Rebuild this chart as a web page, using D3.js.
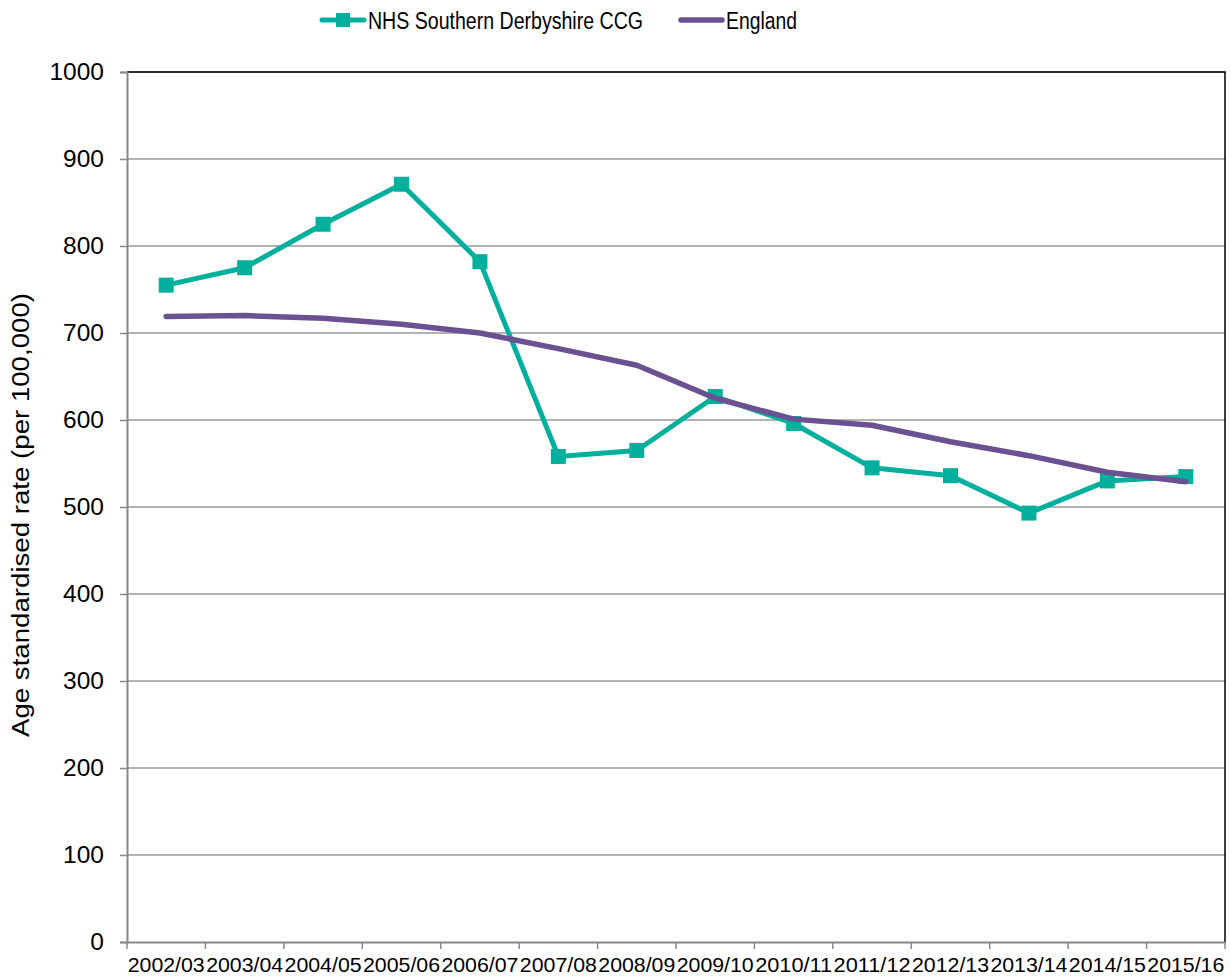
<!DOCTYPE html>
<html>
<head>
<meta charset="utf-8">
<script src="https://cdn.jsdelivr.net/npm/d3@7"></script>
<style>
  body { margin: 0; background: #fff; }
  svg { font-family: "Liberation Sans", Arial, sans-serif; }
</style>
</head>
<body>
<div id="chart"></div>
<script>
var years = ["2002/03", "2003/04", "2004/05", "2005/06", "2006/07", "2007/08", "2008/09",
  "2009/10", "2010/11", "2011/12", "2012/13", "2013/14", "2014/15", "2015/16"];
var derbyshire = [755, 775, 825, 871, 782, 558, 565, 627, 596, 545, 536, 493, 530, 535];
var england = [719, 720, 717, 710, 700, 682, 663, 625, 601, 594, 575, 559, 540, 529];
var yTicks = [0, 100, 200, 300, 400, 500, 600, 700, 800, 900, 1000];

var width = 1231, height = 980;
var plotLeft = 127, plotRight = 1225, plotTop = 72, plotBottom = 942;
var teal = "#00b09d", purple = "#6b5192";

var svg = d3.select("#chart").append("svg")
    .attr("width", width)
    .attr("height", height);

var x = d3.scaleBand().domain(years).range([plotLeft, plotRight]);
var y = d3.scaleLinear().domain([0, 1000]).range([plotBottom, plotTop]);

// gridlines
svg.append("g").selectAll("line")
    .data(yTicks.filter(function (d) { return d > 0; }))
    .enter().append("line")
    .attr("x1", plotLeft).attr("x2", plotRight)
    .attr("y1", function (d) { return y(d); })
    .attr("y2", function (d) { return y(d); })
    .attr("stroke", "#999").attr("stroke-width", 1.5);

// top and right border
svg.append("path")
    .attr("d", "M" + plotLeft + "," + plotTop + "H" + plotRight + "V" + plotBottom)
    .attr("fill", "none").attr("stroke", "#000").attr("stroke-width", 1.5);

// y axis
var yAxis = svg.append("g")
    .attr("transform", "translate(" + plotLeft + ",0)")
    .call(d3.axisLeft(y).tickValues(yTicks).tickFormat(d3.format("d")).tickSize(7).tickPadding(16));
yAxis.select(".domain").attr("stroke", "#888").attr("stroke-width", 2);
yAxis.selectAll(".tick line").attr("stroke", "#888").attr("stroke-width", 1.5);
yAxis.selectAll("text").attr("font-size", "24.5px").attr("fill", "#000")
    .attr("font-family", "Liberation Sans, Arial, sans-serif");

// x axis
var xAxis = svg.append("g")
    .attr("transform", "translate(0," + plotBottom + ")")
    .call(d3.axisBottom(x).tickSize(0).tickPadding(16));
xAxis.select(".domain").attr("stroke", "#888").attr("stroke-width", 2);
xAxis.selectAll("text").attr("font-size", "20px").attr("fill", "#000")
    .attr("font-family", "Liberation Sans, Arial, sans-serif")
    .attr("textLength", 77).attr("lengthAdjust", "spacingAndGlyphs");
svg.append("g").selectAll("line")
    .data(d3.range(years.length + 1))
    .enter().append("line")
    .attr("x1", function (i) { return plotLeft + i * x.step(); })
    .attr("x2", function (i) { return plotLeft + i * x.step(); })
    .attr("y1", plotBottom).attr("y2", plotBottom + 7)
    .attr("stroke", "#888").attr("stroke-width", 1.5);

// y title
svg.append("text")
    .attr("transform", "translate(29,515) rotate(-90)")
    .attr("text-anchor", "middle")
    .attr("font-size", "23px")
    .attr("textLength", 444).attr("lengthAdjust", "spacingAndGlyphs")
    .text("Age standardised rate (per 100,000)");

var cx = function (d, i) { return x(years[i]) + x.bandwidth() / 2; };
var line = d3.line().x(cx).y(function (d) { return y(d); });

// Derbyshire series
svg.append("path")
    .datum(derbyshire)
    .attr("d", line)
    .attr("fill", "none").attr("stroke", teal).attr("stroke-width", 5)
    .attr("stroke-linejoin", "round");
svg.append("g").selectAll("rect")
    .data(derbyshire)
    .enter().append("rect")
    .attr("x", function (d, i) { return cx(d, i) - 7.5; })
    .attr("y", function (d) { return y(d) - 7.5; })
    .attr("width", 15).attr("height", 15)
    .attr("fill", teal);

// England series
svg.append("path")
    .datum(england)
    .attr("d", line)
    .attr("fill", "none").attr("stroke", purple).attr("stroke-width", 5.5)
    .attr("stroke-linejoin", "round").attr("stroke-linecap", "round");

// legend
var legend = svg.append("g");
legend.append("line")
    .attr("x1", 322).attr("x2", 364).attr("y1", 20).attr("y2", 20)
    .attr("stroke", teal).attr("stroke-width", 5).attr("stroke-linecap", "round");
legend.append("rect")
    .attr("x", 336).attr("y", 13).attr("width", 14).attr("height", 14).attr("fill", teal);
legend.append("text")
    .attr("x", 368).attr("y", 29).attr("font-size", "23px")
    .attr("textLength", 275).attr("lengthAdjust", "spacingAndGlyphs")
    .text("NHS Southern Derbyshire CCG");
legend.append("line")
    .attr("x1", 681).attr("x2", 722).attr("y1", 20).attr("y2", 20)
    .attr("stroke", purple).attr("stroke-width", 5.5).attr("stroke-linecap", "round");
legend.append("text")
    .attr("x", 726).attr("y", 29).attr("font-size", "23px")
    .attr("textLength", 71).attr("lengthAdjust", "spacingAndGlyphs")
    .text("England");
</script>
</body>
</html>
